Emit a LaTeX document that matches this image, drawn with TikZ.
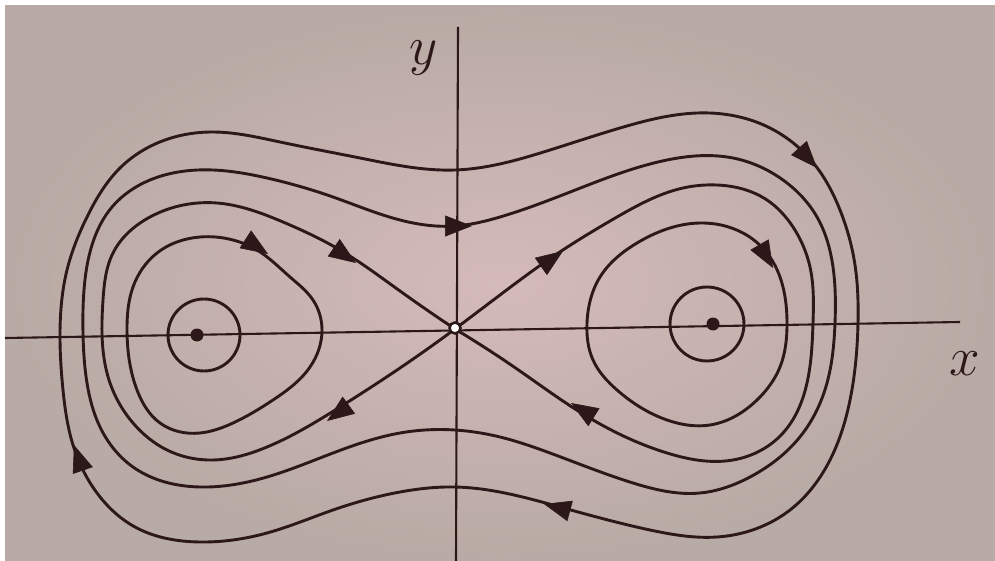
\RequirePackage{fix-cm}
\documentclass[tikz,border=0pt]{standalone}
\usetikzlibrary{hobby,arrows.meta,calc}
\definecolor{ink}{RGB}{44,24,24}
\definecolor{paperin}{RGB}{212,186,186}
\definecolor{paperout}{RGB}{184,170,164}
\begin{document}
\begin{tikzpicture}[x=1pt,y=-1pt,
  curve/.style={draw=ink,line width=2.9pt,use Hobby shortcut},
  axisline/.style={draw=ink,line width=2.1pt},
  arr/.style={-{Triangle[length=27pt,width=21pt]},draw=ink,fill=ink,line width=0.6pt},
  lab/.style={font=\fontsize{55}{55}\selectfont,text=ink,anchor=base,inner sep=0pt}]
% background
\useasboundingbox (0,0) rectangle (995,561);
\fill[white] (0,0) rectangle (995,561);
\shade[inner color=paperin,outer color=paperout] (5,6) rectangle (995,561);
% axes
\draw[axisline] (5,338) -- (960,322);
\draw[axisline] (458,27) -- (456,561);
% outermost orbit
\draw[curve,closed=true] (60,333) .. (67,270) .. (88,215) .. (120,168) .. (165,140) .. (213,132) .. (280,142) .. (360,158) .. (455,170) .. (550,150) .. (620,128) .. (710,113) .. (770,128) .. (815,165) .. (840,210) .. (855,265) .. (858,323) .. (851,395) .. (830,460) .. (790,510) .. (717,537) .. (650,530) .. (560,507) .. (455,487) .. (400,492) .. (333,510) .. (267,533) .. (200,542) .. (135,527) .. (97,493) .. (73,445) .. (63,390);
% second orbit
\draw[curve,closed=true] (83,333) .. (84,290) .. (92,245) .. (112,207) .. (150,180) .. (213,170) .. (267,178) .. (333,197) .. (400,220) .. (455,226) .. (500,217) .. (583,187) .. (667,160) .. (733,158) .. (783,180) .. (817,217) .. (833,267) .. (835,323) .. (827,383) .. (803,433) .. (750,477) .. (700,493) .. (633,483) .. (550,453) .. (500,437) .. (455,430) .. (400,433) .. (333,453) .. (267,477) .. (200,487) .. (133,467) .. (100,427) .. (87,383);
% separatrix, left lobe
\draw[curve] (455,329) .. (400,291) .. (340,250) .. (283,222) .. (217,203) .. (150,217) .. (113,253) .. (103,300) .. (102,333) .. (110,383) .. (133,423) .. (167,450) .. (213,460) .. (267,447) .. (340,407) .. (400,368) .. (455,329);
% separatrix, right lobe
\draw[curve] (455,329) .. (500,295) .. (545,262) .. (617,217) .. (683,188) .. (717,185) .. (767,200) .. (793,227) .. (810,267) .. (813,323) .. (807,383) .. (783,433) .. (733,460) .. (667,453) .. (583,414) .. (517,369) .. (455,329);
% inner loops
\draw[curve,closed=true] (127,330) .. (133,287) .. (157,253) .. (200,237) .. (233,240) .. (257,250) .. (290,277) .. (313,300) .. (322,330) .. (310,367) .. (273,400) .. (233,423) .. (200,433) .. (160,423) .. (137,390);
\draw[curve,closed=true] (587,323) .. (600,277) .. (637,243) .. (700,223) .. (743,233) .. (767,253) .. (783,287) .. (787,323) .. (780,367) .. (757,400) .. (710,425) .. (667,420) .. (617,390) .. (593,360);
% small orbits about the centres
\draw[ink,line width=2.9pt] (204,335) circle[radius=36];
\draw[ink,line width=2.9pt] (707,324) circle[radius=37];
% equilibria
\fill[ink] (197,335) circle[radius=6.5];
\fill[ink] (713,324) circle[radius=6.5];
\draw[ink,fill=white,line width=2.5pt] (455,328) circle[radius=5.5];
% arrowheads
\draw[arr] ($(817,168)+(48:-3)$) -- (817,168);
\draw[arr] ($(544,504)+(195:-3)$) -- (544,504);
\draw[arr] ($(74,445)+(251:-3)$) -- (74,445);
\draw[arr] ($(472,226)+(0:-3)$) -- (472,226);
\draw[arr] ($(356,263)+(34.5:-3)$) -- (356,263);
\draw[arr] ($(327,421)+(144:-3)$) -- (327,421);
\draw[arr] ($(563,251)+(-35:-3)$) -- (563,251);
\draw[arr] ($(571,403)+(212:-3)$) -- (571,403);
\draw[arr] ($(268,254)+(33:-3)$) -- (268,254);
\draw[arr] ($(773,268)+(60:-3)$) -- (773,268);
% labels
\node[lab] (ylab) at (424,65) {$y$};
\node[lab] (xlab) at (965,375) {$x$};
\end{tikzpicture}
\end{document}
